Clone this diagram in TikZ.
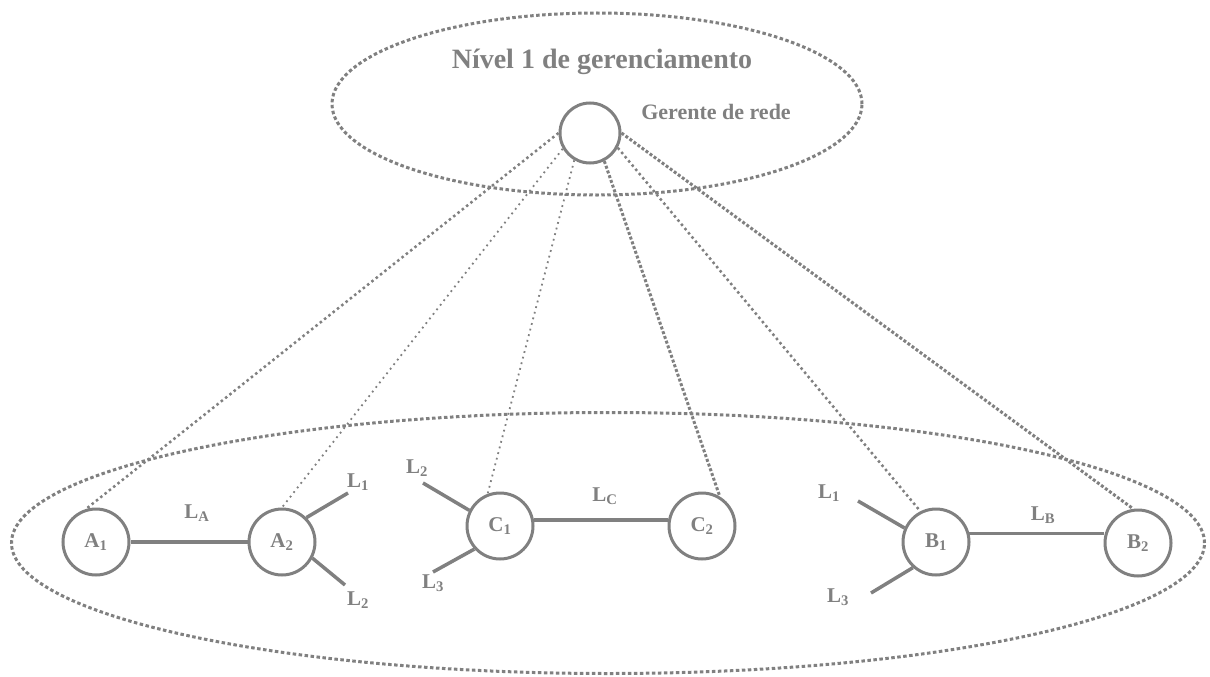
\documentclass[tikz,border=0pt]{standalone}
\usepackage{fontspec}
\setmainfont{Liberation Serif}
\usetikzlibrary{shapes.geometric}
\definecolor{ink}{RGB}{128,128,128}

\begin{document}
\begin{tikzpicture}[
  x=1pt, y=-1pt, color=ink, text=ink,
  font=\fontsize{21}{23}\selectfont\bfseries,
  nd/.style={draw, circle, line width=3pt, minimum size=#1, inner sep=0pt, fill=white},
  nd/.default=66pt,
  lvl/.style={draw, ellipse, line width=3pt, dash pattern=on 3.5pt off 2.5pt, inner sep=0pt},
  lk/.style={line width=3.5pt},
  mg/.style={line width=2.5pt, dash pattern=on 2.5pt off 3pt},
  mgf/.style={line width=1.8pt, dash pattern=on 1.8pt off 4pt},
  mgt/.style={line width=3pt, dash pattern=on 3pt off 2pt},
  lab/.style={inner sep=1pt}
]
\useasboundingbox (0,0) rectangle (1210,677);
% ---------------- levels
\node[lvl, minimum width=530pt, minimum height=182pt] (lvl1) at (597,104) {};
\node[lvl, minimum width=1193pt, minimum height=261pt] (net) at (608,543) {};
\node[lab, font=\fontsize{28}{30}\selectfont\bfseries] (ttl) at (602,62) {Nível 1 de gerenciamento};
% ---------------- manager
\node[nd=60pt] (mgr) at (590,133) {};
\node[lab, font=\fontsize{22}{24}\selectfont\bfseries] (ger) at (716,112) {Gerente de rede};
% ---------------- network nodes
\node[nd] (a1) at (96,542)   {A\textsubscript{1}};
\node[nd] (a2) at (282,542)  {A\textsubscript{2}};
\node[nd] (c1) at (500,526)  {C\textsubscript{1}};
\node[nd] (c2) at (702,526)  {C\textsubscript{2}};
\node[nd] (b1) at (936,542)  {B\textsubscript{1}};
\node[nd] (b2) at (1138,543) {B\textsubscript{2}};
% ---------------- free line ends
\coordinate (a2u) at (348,493);
\coordinate (a2d) at (345,585);
\coordinate (c1u) at (423,483);
\coordinate (c1d) at (433,572);
\coordinate (b1u) at (858,501);
\coordinate (b1d) at (871,593);
% ---------------- links
\draw[lk] (a1) -- (a2);
\draw[lk] (c1.10) -- (c1.10 -| c2.west);
\draw[lk] (b1.14) -- (b1.14 -| b2.west);
\draw[lk] (a2.45) -- (a2u);
\draw[lk] (a2.-28) -- (a2d);
\draw[lk] (c1.153) -- (c1u);
\draw[lk] (c1.222) -- (c1d);
\draw[lk] (b1.156) -- (b1u);
\draw[lk] (b1.228) -- (b1d);
% ---------------- labels
\node[lab] (la)  at (197,513) {L\textsubscript{A}};
\node[lab] (lc)  at (605,496) {L\textsubscript{C}};
\node[lab] (lb)  at (1043,515) {L\textsubscript{B}};
\node[lab] (a2l1) at (358,482) {L\textsubscript{1}};
\node[lab] (a2l2) at (358,600) {L\textsubscript{2}};
\node[lab] (c1l2) at (417,468) {L\textsubscript{2}};
\node[lab] (c1l3) at (433,583) {L\textsubscript{3}};
\node[lab] (b1l1) at (829,493) {L\textsubscript{1}};
\node[lab] (b1l3) at (838,597) {L\textsubscript{3}};
% ---------------- management lines
\draw[mg]  (mgr.180) -- (a1.107);
\draw[mgf] (mgr.210) -- (a2.90);
\draw[mgf] (mgr.240) -- (c1.111);
\draw[mgt] (mgr.297) -- (c2.59);
\draw[mg]  (mgr.332) -- (b1.117);
\draw[mgt] (mgr.0)   -- (b2.98);
\end{tikzpicture}
\end{document}
